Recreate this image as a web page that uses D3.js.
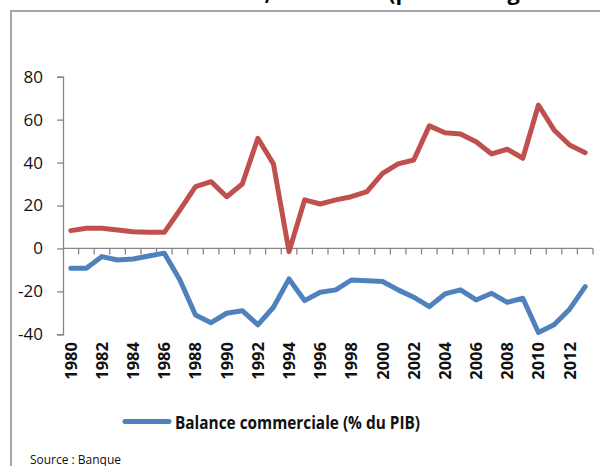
<!DOCTYPE html>
<html><head><meta charset="utf-8">
<script src="https://cdn.jsdelivr.net/npm/d3@7"></script>
<style>body{margin:0;background:#fff}svg{display:block}</style>
</head><body>
<svg id="c" width="600" height="466"></svg>
<script>
const years = d3.range(1980, 2014);
const ouverture = [8.3,9.4,9.4,8.6,7.8,7.5,7.5,17.9,28.8,31.1,24.1,30.0,51.3,39.4,-1.5,22.6,20.7,22.6,24.1,26.5,35.0,39.4,41.2,57.1,53.9,53.3,49.7,44.0,46.2,42.0,66.8,55.2,48.2,44.6];
const balance = [-9.2,-9.2,-3.8,-5.4,-4.9,-3.5,-2.2,-14.7,-31.0,-34.6,-30.2,-29.0,-35.6,-27.4,-14.2,-24.3,-20.4,-19.3,-14.7,-15.1,-15.4,-19.3,-22.7,-27.1,-21.2,-19.3,-24.0,-20.9,-25.1,-23.2,-39.2,-35.6,-28.3,-17.8];
const yTicks = [80,60,40,20,0,-20,-40];
const xLabels = years.filter(y => y % 2 === 0);
const legendLabel = "Balance commerciale (% du PIB)";
const titleText = "Commerce extérieur, 1980-2013 (pourcentage du PIB)";
const sourceText = "Source : Banque";

const svg = d3.select("#c");
const font = "'Open Sans', 'Noto Sans', sans-serif";

// frame
svg.append("rect").attr("x",11).attr("y",11).attr("width",620).attr("height",500)
  .attr("fill","none").attr("stroke","#8a8a8a").attr("stroke-width",1.5);

// title (mostly cut off at top, as in the reference)
svg.append("text").attr("x",328).attr("y",0).attr("text-anchor","middle")
  .attr("font-family",font).attr("font-weight","bold").attr("font-size",21.7)
  .text(titleText);

const x = d3.scaleBand().domain(years).range([63,593]);
const y = d3.scaleLinear().domain([-40,80]).range([334.3,76.7]);

// y axis
const ya = svg.append("g").attr("transform","translate(63,0)")
  .call(d3.axisLeft(y).tickValues(yTicks).tickSize(6).tickPadding(14).tickFormat(d3.format("d")));
ya.select(".domain").attr("stroke","#868686").attr("stroke-width",1.3);
ya.selectAll(".tick line").attr("stroke","#868686").attr("stroke-width",1.3);
ya.selectAll(".tick text").attr("font-family",font).attr("font-size",17).attr("fill","#111")
  .text(d => d < 0 ? "-" + Math.abs(d) : d);

// x axis at 0
const xa = svg.append("g").attr("transform",`translate(0,${y(0)})`);
xa.append("line").attr("x1",63).attr("x2",593).attr("stroke","#868686").attr("stroke-width",1.3);
const bounds = years.map(d => x(d) + x.bandwidth());
xa.selectAll("line.tk").data(bounds).join("line").attr("class","tk")
  .attr("x1",d=>d).attr("x2",d=>d).attr("y1",0).attr("y2",6)
  .attr("stroke","#868686").attr("stroke-width",1.3);

// x labels
svg.append("g").selectAll("text").data(xLabels).join("text")
  .attr("transform", d => `translate(${x(d)+x.bandwidth()/2},342) rotate(-90)`)
  .attr("text-anchor","end").attr("dy","0.36em")
  .attr("font-family",font).attr("font-weight","bold").attr("font-size",16.5).attr("fill","#111")
  .text(d => d);

const line = d3.line().x((d,i) => x(years[i]) + x.bandwidth()/2).y(d => y(d));
svg.append("path").datum(ouverture).attr("d",line).attr("fill","none")
  .attr("stroke","#C0504D").attr("stroke-width",5).attr("stroke-linejoin","round").attr("stroke-linecap","round");
svg.append("path").datum(balance).attr("d",line).attr("fill","none")
  .attr("stroke","#4F81BD").attr("stroke-width",5).attr("stroke-linejoin","round").attr("stroke-linecap","round");

// legend
svg.append("line").attr("x1",125).attr("x2",169).attr("y1",421.5).attr("y2",421.5)
  .attr("stroke","#4F81BD").attr("stroke-width",5).attr("stroke-linecap","round");
svg.append("text").attr("x",175).attr("y",429).attr("font-family",font).attr("font-weight","bold")
  .attr("font-size",17).attr("fill","#111").attr("textLength",245).attr("lengthAdjust","spacingAndGlyphs")
  .text(legendLabel);

// source
svg.append("text").attr("x",30).attr("y",464).attr("font-family",font).attr("font-size",13.5)
  .attr("fill","#111").attr("textLength",91).attr("lengthAdjust","spacingAndGlyphs").text(sourceText);
</script>
</body></html>
